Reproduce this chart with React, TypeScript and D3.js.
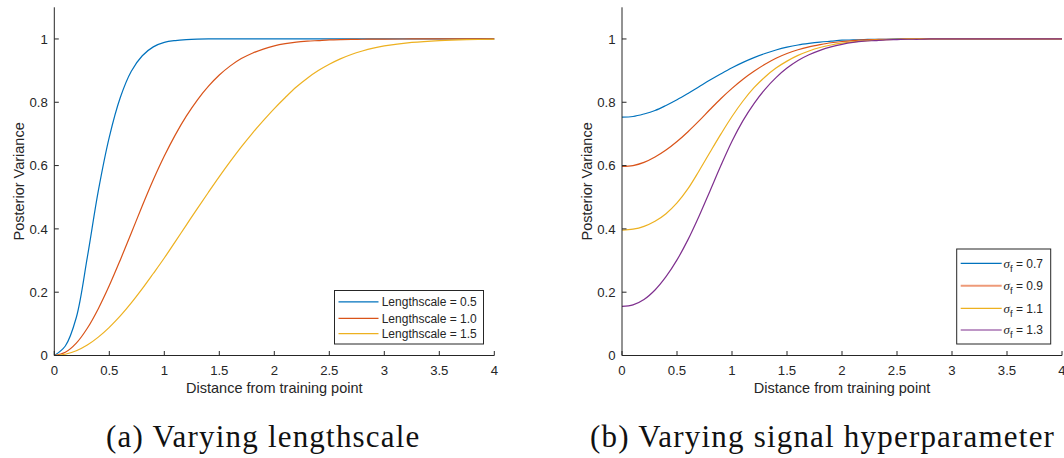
import React from "react";
import * as d3 from "d3";

// Distance from the training point at which the variance is sampled
const distance = [
  0, 0.1, 0.2, 0.3, 0.4, 0.5, 0.6, 0.7, 0.8, 0.9, 1.0, 1.1, 1.2, 1.3, 1.4,
  1.5, 1.6, 1.7, 1.8, 1.9, 2.0, 2.1, 2.2, 2.3, 2.4, 2.5, 2.6, 2.7, 2.8, 2.9,
  3.0, 3.25, 3.5, 3.75, 4.0,
];

// (a) posterior variance for different lengthscales
const lengthscaleLabels = ["Lengthscale = 0.5", "Lengthscale = 1.0", "Lengthscale = 1.5"];
const varLs05 = [
  0, 0.03, 0.12, 0.31, 0.52, 0.69, 0.815, 0.898, 0.947, 0.975, 0.989, 0.995,
  0.998, 0.9995, 1, 1, 1, 1, 1, 1, 1, 1, 1, 1, 1, 1, 1, 1, 1, 1, 1, 1, 1, 1, 1,
];
const varLs10 = [
  0, 0.01, 0.039, 0.086, 0.148, 0.221, 0.302, 0.387, 0.473, 0.555, 0.63, 0.697,
  0.756, 0.807, 0.85, 0.886, 0.915, 0.938, 0.955, 0.968, 0.978, 0.985, 0.99,
  0.993, 0.995, 0.997, 0.998, 0.9985, 0.999, 0.9993, 0.9995, 1, 1, 1, 1,
];
const varLs15 = [
  0, 0.004, 0.015, 0.033, 0.058, 0.089, 0.125, 0.166, 0.211, 0.259, 0.308, 0.36,
  0.412, 0.464, 0.515, 0.565, 0.613, 0.659, 0.702, 0.742, 0.78, 0.815, 0.848,
  0.876, 0.9, 0.92, 0.937, 0.951, 0.962, 0.971, 0.978, 0.989, 0.995, 0.998, 0.999,
];

// (b) posterior variance for different signal hyperparameters
const sigmaValues = ["0.7", "0.9", "1.1", "1.3"];
const varSf07 = [
  0.753, 0.755, 0.763, 0.774, 0.79, 0.808, 0.828, 0.849, 0.87, 0.89, 0.909,
  0.926, 0.941, 0.954, 0.965, 0.974, 0.981, 0.986, 0.99, 0.993, 0.996, 0.997,
  0.998, 0.999, 0.999, 1, 1, 1, 1, 1, 1, 1, 1, 1, 1,
];
const varSf09 = [
  0.597, 0.6, 0.61, 0.627, 0.649, 0.676, 0.707, 0.741, 0.777, 0.812, 0.844,
  0.873, 0.898, 0.92, 0.939, 0.954, 0.966, 0.975, 0.982, 0.988, 0.992, 0.995,
  0.997, 0.998, 0.999, 0.999, 1, 1, 1, 1, 1, 1, 1, 1, 1,
];
const varSf11 = [
  0.396, 0.399, 0.408, 0.424, 0.448, 0.482, 0.527, 0.583, 0.642, 0.7, 0.755,
  0.804, 0.846, 0.88, 0.908, 0.93, 0.948, 0.962, 0.973, 0.981, 0.987, 0.991,
  0.994, 0.996, 0.998, 0.999, 1, 1, 1, 1, 1, 1, 1, 1, 1,
];
const varSf13 = [
  0.155, 0.16, 0.177, 0.207, 0.249, 0.302, 0.366, 0.44, 0.52, 0.601, 0.677,
  0.742, 0.796, 0.841, 0.878, 0.908, 0.932, 0.95, 0.964, 0.975, 0.983, 0.989,
  0.993, 0.995, 0.997, 0.998, 0.999, 0.999, 1, 1, 1, 1, 1, 1, 1,
];

const xTicks = [0, 0.5, 1, 1.5, 2, 2.5, 3, 3.5, 4];
const yTicks = [0, 0.2, 0.4, 0.6, 0.8, 1];

const COLORS = ["#0072BD", "#D95319", "#EDB120", "#7E2F8E"];
const AXIS = "#262626";
const SANS = "Liberation Sans, Arial, Helvetica, sans-serif";
const SERIF = "Liberation Serif, Times New Roman, serif";

type PanelProps = {
  left: number;
  series: number[][];
  children?: React.ReactNode;
};

function Panel({ left, series, children }: PanelProps) {
  const x = d3.scaleLinear().domain([0, 4]).range([left, left + 440]);
  const y = d3.scaleLinear().domain([0, 1.1]).range([355.5, 7.3]);
  const line = d3
    .line<number>()
    .x((_, i) => x(distance[i]))
    .y((v) => y(v))
    .curve(d3.curveCatmullRom.alpha(0.5));
  const [x0, x1] = x.range();
  const [y0, y1] = y.range();
  const fmt = (v: number) => d3.format("~g")(v);
  return (
    <g>
      {series.map((s, i) => (
        <path key={i} d={line(s) || ""} fill="none" stroke={COLORS[i]} strokeWidth={1.2} />
      ))}
      <line x1={x0} x2={x1} y1={y0} y2={y0} stroke={AXIS} strokeWidth={1} />
      <line x1={x0} x2={x0} y1={y0} y2={y1} stroke={AXIS} strokeWidth={1} />
      {xTicks.map((t) => (
        <g key={"x" + t}>
          <line x1={x(t)} x2={x(t)} y1={y0} y2={y0 - 4.5} stroke={AXIS} strokeWidth={1} />
          <text x={x(t)} y={375} textAnchor="middle" fontSize={13.2} fill={AXIS} fontFamily={SANS}>
            {fmt(t)}
          </text>
        </g>
      ))}
      {yTicks.map((t) => (
        <g key={"y" + t}>
          <line x1={x0} x2={x0 + 4.5} y1={y(t)} y2={y(t)} stroke={AXIS} strokeWidth={1} />
          <text x={x0 - 6.5} y={y(t) + 4.7} textAnchor="end" fontSize={13.2} fill={AXIS} fontFamily={SANS}>
            {fmt(t)}
          </text>
        </g>
      ))}
      <text x={(x0 + x1) / 2} y={392.5} textAnchor="middle" fontSize={14.5} fill={AXIS} fontFamily={SANS}>
        Distance from training point
      </text>
      <text
        transform={`translate(${x0 - 30},${(y0 + y1) / 2}) rotate(-90)`}
        textAnchor="middle"
        fontSize={14.5}
        fill={AXIS}
        fontFamily={SANS}
      >
        Posterior Variance
      </text>
      {children}
    </g>
  );
}

function LengthscaleLegend() {
  const rows = [301.8, 318.3, 333.6];
  return (
    <g>
      <rect x={334.5} y={290.5} width={149} height={53.5} fill="#fff" stroke={AXIS} strokeWidth={1} />
      {lengthscaleLabels.map((label, i) => (
        <g key={label}>
          <line x1={338.5} x2={378.5} y1={rows[i]} y2={rows[i]} stroke={COLORS[i]} strokeWidth={1.2} />
          <text x={381.7} y={rows[i] + 4.3} fontSize={12} fill={AXIS} fontFamily={SANS}>
            {label}
          </text>
        </g>
      ))}
    </g>
  );
}

function SigmaLegend() {
  const rows = [263.3, 285.7, 308.3, 330];
  const legendColors = [COLORS[0], "#EE9A78", COLORS[2], COLORS[3]];
  const widths = [1.2, 2, 1.2, 1.2];
  return (
    <g>
      <rect x={956.7} y={249} width={94} height={95} fill="#fff" stroke={AXIS} strokeWidth={1} />
      {sigmaValues.map((v, i) => (
        <g key={v}>
          <line x1={960.7} x2={1001.7} y1={rows[i]} y2={rows[i]} stroke={legendColors[i]} strokeWidth={widths[i]} />
          <text x={1003.5} y={rows[i] + 4.3} fontSize={12} fill={AXIS} fontFamily={SANS}>
            <tspan fontFamily={SERIF} fontStyle="italic" fontSize={13}>σ</tspan>
            <tspan dy={4} fontSize={9.5}>f</tspan>
            <tspan dy={-4}> = {v}</tspan>
          </text>
        </g>
      ))}
    </g>
  );
}

export default function App() {
  return (
    <svg
      width={1064}
      height={458}
      style={{ position: "absolute", left: 0, top: 0, display: "block", background: "#fff" }}
    >
      <rect width={1064} height={458} fill="#fff" />
      <Panel left={54.3} series={[varLs05, varLs10, varLs15]}>
        <LengthscaleLegend />
      </Panel>
      <Panel left={622} series={[varSf07, varSf09, varSf11, varSf13]}>
        <SigmaLegend />
      </Panel>
      <text x={106} y={447} fontSize={31} letterSpacing={1.2} fill="#111" style={{ fontFamily: "'Liberation Serif', serif" }}>
        (a) Varying lengthscale
      </text>
      <text x={590} y={447} fontSize={31} letterSpacing={1.2} fill="#111" style={{ fontFamily: "'Liberation Serif', serif" }}>
        (b) Varying signal hyperparameter
      </text>
    </svg>
  );
}
